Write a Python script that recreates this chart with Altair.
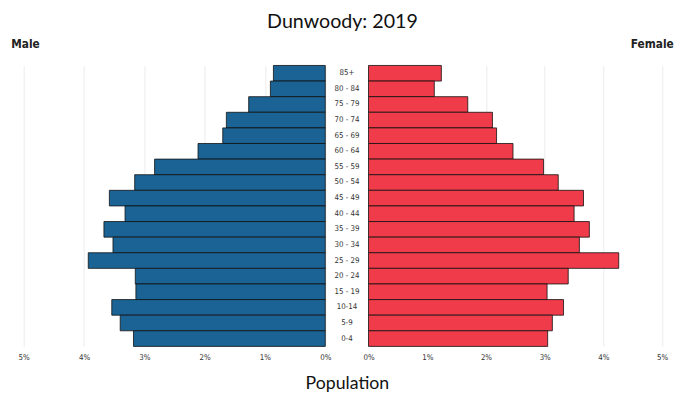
import altair as alt
import pandas as pd

age_groups = ["85+", "80 - 84", "75 - 79", "70 - 74", "65 - 69", "60 - 64", "55 - 59",
              "50 - 54", "45 - 49", "40 - 44", "35 - 39", "30 - 34", "25 - 29",
              "20 - 24", "15 - 19", "10-14", "5-9", "0-4"]
male = [0.86, 0.91, 1.27, 1.64, 1.70, 2.11, 2.83, 3.16, 3.58, 3.32, 3.67, 3.52,
        3.93, 3.15, 3.14, 3.54, 3.40, 3.18]
female = [1.24, 1.12, 1.69, 2.11, 2.18, 2.46, 2.98, 3.23, 3.66, 3.50, 3.76, 3.59,
          4.26, 3.40, 3.04, 3.32, 3.13, 3.05]
ticks = [0, 1, 2, 3, 4, 5]

df = pd.DataFrame({"age": age_groups, "male": male, "female": female})

FONT_N = "DejaVu Sans Condensed, DejaVu Sans, sans-serif"
H = 286
yenc = alt.Y("age:N", sort=age_groups, axis=None,
             scale=alt.Scale(paddingInner=0, paddingOuter=0))

def xaxis():
    return alt.Axis(values=ticks, labelExpr="datum.value + '%'", title=None,
                    ticks=False, domain=False, grid=True, gridColor="#ececec",
                    labelFont=FONT_N, labelFontSize=8, labelColor="#333",
                    labelPadding=7, labelFlush=False)

left = alt.Chart(df).mark_bar(color="#1b6394", stroke="#111", strokeWidth=0.8).encode(
    x=alt.X("male:Q", scale=alt.Scale(domain=[0, 5], reverse=True), axis=xaxis()),
    y=yenc,
).properties(width=307, height=H,
             title=alt.TitleParams("Male", anchor="start", font=FONT_N, fontSize=12,
                                   fontWeight="bold", color="#222", offset=14, dx=-7))

mid = alt.Chart(df).transform_calculate(mid="0.5").mark_text(
    font=FONT_N, fontSize=8, color="#333").encode(
    x=alt.X("mid:Q", scale=alt.Scale(domain=[0, 1]),
            axis=alt.Axis(title="Population", labels=False, ticks=False, domain=False,
                          grid=False, titleFont="Lato", titleFontSize=18,
                          titleFontWeight="normal", titleColor="#111", titlePadding=29)),
    y=yenc,
    text="age:N",
).properties(width=44, height=H)

right = alt.Chart(df).mark_bar(color="#ef3b4a", stroke="#111", strokeWidth=0.8).encode(
    x=alt.X("female:Q", scale=alt.Scale(domain=[0, 5]), axis=xaxis()),
    y=yenc,
).properties(width=299, height=H,
             title=alt.TitleParams("Female", anchor="end", font=FONT_N, fontSize=12,
                                   fontWeight="bold", color="#222", offset=14, dx=6))

chart = alt.hconcat(left, mid, right, spacing=0, bounds="flush").properties(
    title=alt.TitleParams("Dunwoody: 2019", font="Lato", fontSize=20,
                          fontWeight="normal", color="#111", anchor="middle", offset=7),
    padding={"left": 3, "top": 0, "right": 0, "bottom": 0},
).configure_view(stroke=None).configure_concat(spacing=0)

chart.save("out.html", embed_options={"renderer": "svg", "actions": False})
